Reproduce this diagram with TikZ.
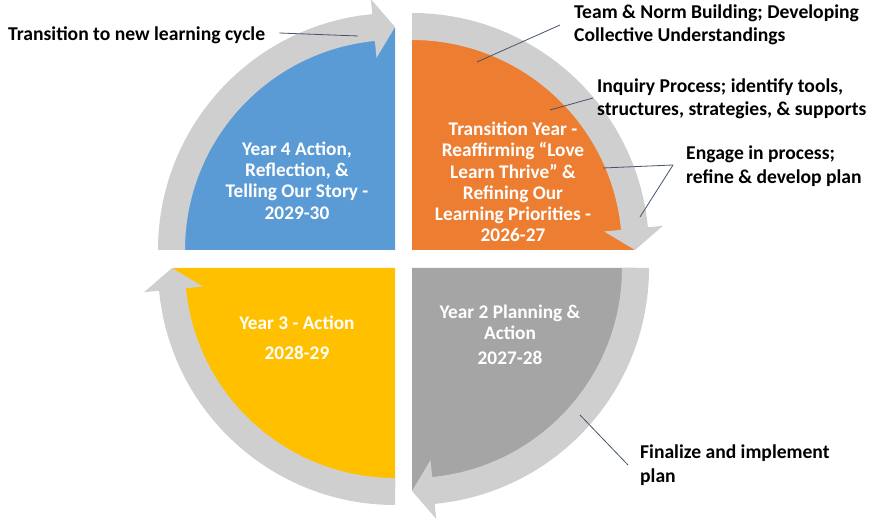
\documentclass[tikz,border=0pt]{standalone}
\usepackage{fontspec}
\setmainfont{Carlito}
\definecolor{qblue}{HTML}{5B9BD5}
\definecolor{qorange}{HTML}{ED7D31}
\definecolor{qgray}{HTML}{A5A5A5}
\definecolor{qyellow}{HTML}{FFC000}
\definecolor{bandgray}{HTML}{D0CFCF}
\definecolor{linecol}{HTML}{44546A}
\newcommand\cyclearrow[2]{%
  \fill[bandgray,shift={#1},rotate=#2]
    (90:210) arc[start angle=90,end angle=5.5,radius=210]
    -- (5.5:193) -- (0:223) -- (5.5:252) -- (5.5:237)
    arc[start angle=5.5,end angle=90,radius=237] -- cycle;}
\newcommand\quadpie[3]{%
  \fill[#3,shift={#1},rotate=#2] (0,0) -- (0:222) arc[start angle=0,end angle=90,radius=222] -- cycle;}
\tikzset{
  qtext/.style={text=white,align=center,inner sep=0pt,font=\fontsize{19.3}{21.2}\selectfont\bfseries},
  lab/.style={text=black,align=left,anchor=west,inner sep=0pt,font=\fontsize{19.6}{23.5}\selectfont\bfseries},
  conn/.style={draw=linecol,line width=0.8pt}
}
\begin{document}
\begin{tikzpicture}[x=1pt,y=1pt]
\useasboundingbox[fill=white] (0,0) rectangle (876,527);
% quadrants
\quadpie{(412,277)}{0}{qorange}
\quadpie{(395,277)}{90}{qblue}
\quadpie{(395,259)}{180}{qyellow}
\quadpie{(412,259)}{270}{qgray}
% circular arrows
\cyclearrow{(412,277)}{0}
\cyclearrow{(395,277)}{90}
\cyclearrow{(395,259)}{180}
\cyclearrow{(412,259)}{-90}
% quadrant texts
\node[qtext] (q4) at (297,346.5) {Year 4 Action,\\Reflection, \&\\Telling Our Story -\\2029-30};
\node[qtext] (q1) at (513,345) {Transition Year -\\Reaffirming “Love\\Learn Thrive” \&\\Refining Our\\Learning Priorities -\\2026-27};
\node[qtext] (q2) at (510,192) {Year 2 Planning \&\\Action\\[4pt]2027-28};
\node[qtext] (q3) at (297,189.5) {Year 3 - Action\\[9pt]2028-29};
% labels
\node[lab] (ltrans) at (8,492) {Transition to new learning cycle};
\node[lab] (lteam) at (574,502) {Team \& Norm Building; Developing\\Collective Understandings};
\node[lab] (linq) at (597,428) {Inquiry Process; identify tools,\\structures, strategies, \& supports};
\node[lab] (leng) at (686,361) {Engage in process;\\refine \& develop plan};
\node[lab] (lfin) at (640,62) {Finalize and implement\\plan};
% connector end points
\coordinate (ptrans) at (358,491);
\coordinate (pteam) at (477,465);
\coordinate (pinq) at (550,417);
\coordinate (pengA) at (603,359);
\coordinate (pengB) at (640,310);
\coordinate (pfin) at (580,112);
\coordinate (sengs) at (673,362);
% connectors
\draw[conn] ([xshift=14pt,yshift=2pt]ltrans.east) -- (ptrans);
\draw[conn] ([xshift=-14pt,yshift=0pt]lteam.west) -- (pteam);
\draw[conn] ([xshift=-4pt,yshift=1pt]linq.west) -- (pinq);
\draw[conn] (sengs) -- (pengA);
\draw[conn] (sengs) -- (pengB);
\draw[conn] ([xshift=-12pt]lfin.west) -- (pfin);
\end{tikzpicture}
\end{document}
